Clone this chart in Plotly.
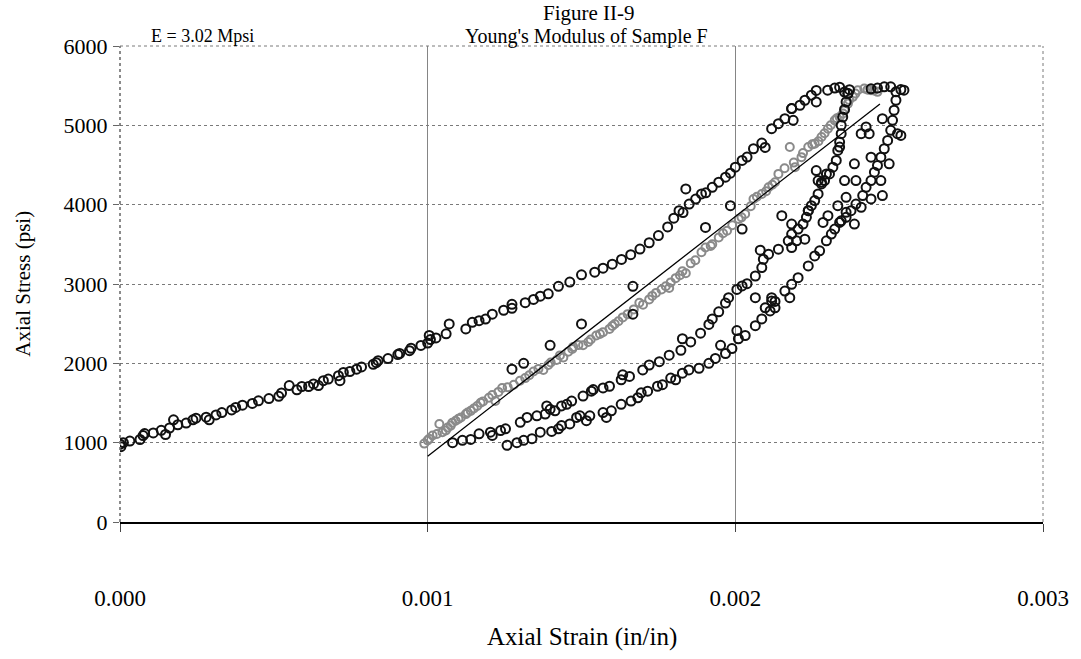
import plotly.graph_objects as go

# ---------------- data ----------------
load_strain = [0.0, 0.000003, 0.000011, 0.000032, 0.000065, 0.000075, 0.00008, 0.000108, 0.000134, 0.000148,
               0.000161, 0.000174, 0.000188, 0.000215, 0.000237, 0.000247, 0.00028, 0.00029, 0.000312, 0.000331,
               0.000363, 0.000376, 0.000398, 0.00043, 0.00045, 0.000484, 0.000516, 0.000525, 0.00055, 0.000575,
               0.000591, 0.000613, 0.000629, 0.000645, 0.000661, 0.000677, 0.00071, 0.000715, 0.000726, 0.000747,
               0.000769, 0.000785, 0.000823, 0.000833, 0.000839, 0.000871, 0.000903, 0.000909, 0.000941, 0.000946,
               0.000978, 0.001, 0.001005, 0.001009, 0.001027, 0.00106, 0.00107, 0.001124, 0.001145, 0.001167,
               0.001188, 0.00121, 0.001247, 0.001274, 0.001274, 0.001317, 0.001344, 0.001366, 0.001392, 0.001425,
               0.001462, 0.0015, 0.001543, 0.00157, 0.0016, 0.00163, 0.00166, 0.00169, 0.00172, 0.00175,
               0.00178, 0.0018, 0.001817, 0.00183, 0.00185, 0.001871, 0.00189, 0.001904, 0.001925, 0.001946,
               0.001968, 0.001984, 0.002, 0.002022, 0.002038, 0.002059, 0.002086, 0.002097, 0.002118, 0.00214,
               0.002161, 0.002183, 0.00221, 0.002226, 0.002247, 0.002263, 0.0023, 0.002323, 0.002339, 0.002355,
               0.002366]
load_stress = [980, 950, 1000, 1020, 1040, 1090, 1115, 1123, 1156, 1103,
               1185, 1288, 1226, 1247, 1288, 1309, 1321, 1288, 1350, 1379,
               1412, 1444, 1473, 1494, 1527, 1556, 1584, 1626, 1720, 1667,
               1708, 1708, 1741, 1720, 1782, 1802, 1844, 1782, 1885, 1897,
               1926, 1955, 1988, 2008, 2033, 2060, 2111, 2124, 2160, 2190,
               2225, 2255, 2351, 2300, 2320, 2372, 2496, 2434, 2517, 2537,
               2558, 2620, 2669, 2744, 2694, 2764, 2806, 2847, 2876, 2971,
               3025, 3116, 3149, 3200, 3250, 3310, 3370, 3440, 3520, 3610,
               3720, 3830, 3924, 3900, 4008, 4070, 4135, 4150, 4219, 4283,
               4346, 4397, 4473, 4557, 4600, 4705, 4776, 4721, 4958, 5021,
               5084, 5211, 5253, 5316, 5380, 5440, 5443, 5470, 5480, 5420,
               5400]

gray_strain = [0.000989, 0.001, 0.001005, 0.001016, 0.00103, 0.001038, 0.001048, 0.001059, 0.001065, 0.001075,
               0.00108, 0.001091, 0.0011, 0.001108, 0.001124, 0.00113, 0.00114, 0.00115, 0.001161, 0.001172,
               0.00118, 0.001199, 0.00121, 0.00122, 0.00123, 0.001242, 0.00126, 0.00128, 0.0013, 0.001317,
               0.00133, 0.001344, 0.00136, 0.001376, 0.001392, 0.0014, 0.001419, 0.00143, 0.001441, 0.001457,
               0.00147, 0.001473, 0.00149, 0.001505, 0.001522, 0.00153, 0.001548, 0.00156, 0.00157, 0.001591,
               0.0016, 0.001608, 0.00162, 0.001634, 0.00165, 0.00167, 0.001688, 0.0017, 0.00172, 0.00173,
               0.001742, 0.00176, 0.001774, 0.001785, 0.00179, 0.001806, 0.00182, 0.001828, 0.001839, 0.001855,
               0.00187, 0.00189, 0.001903, 0.00192, 0.001925, 0.001946, 0.00196, 0.001973, 0.00199, 0.002011,
               0.00202, 0.002032, 0.00205, 0.002059, 0.00207, 0.002086, 0.0021, 0.002108, 0.00212, 0.002129,
               0.00214, 0.00216, 0.002177, 0.00219, 0.002194, 0.002215, 0.00222, 0.002237, 0.00225, 0.002258,
               0.00227, 0.00228, 0.00229, 0.002301, 0.00231, 0.002323, 0.00233, 0.002339, 0.00235, 0.002355,
               0.002366, 0.00237, 0.002382, 0.00239, 0.002398, 0.002419, 0.00243, 0.002441, 0.00245, 0.002462]
gray_stress = [988, 1029, 1050, 1091, 1110, 1236, 1132, 1153, 1190, 1215,
               1250, 1277, 1300, 1318, 1360, 1380, 1401, 1430, 1463, 1504,
               1520, 1566, 1600, 1525, 1640, 1690, 1700, 1731, 1780, 1814,
               1850, 1897, 1930, 1917, 1979, 2010, 2041, 2100, 2074, 2145,
               2180, 2207, 2230, 2227, 2269, 2300, 2351, 2370, 2393, 2434,
               2470, 2496, 2530, 2579, 2620, 2680, 2764, 2740, 2806, 2850,
               2888, 2930, 2971, 2950, 3020, 3074, 3110, 3160, 3136, 3260,
               3300, 3400, 3460, 3480, 3502, 3586, 3640, 3671, 3740, 3819,
               3840, 3882, 3980, 4072, 4100, 4135, 4170, 4219, 4250, 4283,
               4388, 4460, 4726, 4530, 4473, 4599, 4650, 4726, 4760, 4768,
               4800, 4852, 4900, 4958, 5000, 5063, 5090, 5105, 5150, 5190,
               5274, 5320, 5359, 5400, 5443, 5464, 5450, 5443, 5440, 5422]

unload1_strain = [0.001081, 0.001113, 0.00114, 0.001167, 0.001204, 0.00121, 0.001237, 0.001253, 0.001301, 0.001323,
                  0.001355, 0.001382, 0.001387, 0.001398, 0.001414, 0.001435, 0.001452, 0.001468, 0.001505, 0.001532,
                  0.001538, 0.00157, 0.001591, 0.001629, 0.001634, 0.001656, 0.001699, 0.00172, 0.001753, 0.001785,
                  0.001823, 0.001828, 0.001855, 0.001887, 0.001914, 0.001925, 0.001946, 0.001968, 0.001978, 0.002005,
                  0.002022, 0.002038, 0.002065, 0.002086, 0.002091, 0.002081, 0.002108, 0.00214, 0.002172, 0.002183,
                  0.002204, 0.00222, 0.002231, 0.002237, 0.002247, 0.002258, 0.002269, 0.00228, 0.00229, 0.002306,
                  0.002317, 0.002328, 0.002333, 0.002339, 0.002344, 0.002344, 0.002349, 0.002355, 0.00236, 0.002366,
                  0.002371]
unload1_stress = [1000, 1029, 1041, 1112, 1132, 1091, 1153, 1174, 1256, 1318,
                  1339, 1360, 1463, 1421, 1401, 1463, 1483, 1525, 1587, 1649,
                  1669, 1690, 1711, 1793, 1855, 1835, 1917, 1979, 2021, 2103,
                  2165, 2310, 2270, 2380, 2490, 2560, 2650, 2760, 2827, 2932,
                  2975, 3004, 3101, 3207, 3312, 3426, 3376, 3439, 3544, 3629,
                  3692, 3755, 3840, 3924, 3987, 4051, 4135, 4262, 4304, 4388,
                  4473, 4557, 4684, 4789, 4895, 5000, 5105, 5200, 5295, 5401,
                  5450]

unload2_strain = [0.001258, 0.00129, 0.001312, 0.001339, 0.001366, 0.001403, 0.001425, 0.001435, 0.001462, 0.001484,
                  0.001495, 0.001516, 0.001527, 0.00157, 0.001581, 0.001597, 0.001629, 0.001661, 0.001683, 0.001694,
                  0.001715, 0.001747, 0.001763, 0.00179, 0.001806, 0.001828, 0.001849, 0.001882, 0.001914, 0.001935,
                  0.001952, 0.001968, 0.001989, 0.002005, 0.00201, 0.002032, 0.002065, 0.002086, 0.002097, 0.002113,
                  0.002118, 0.002129, 0.002161, 0.002183, 0.002204, 0.002237, 0.002258, 0.002274, 0.002296, 0.002312,
                  0.002323, 0.002344, 0.00236, 0.002376, 0.002392, 0.002414, 0.002425, 0.002441, 0.002452, 0.002462,
                  0.002473, 0.002484, 0.002495, 0.002505, 0.002511, 0.002516, 0.002522, 0.002522, 0.002538, 0.002548,
                  0.002505, 0.002484, 0.002462, 0.002441]
unload2_stress = [967, 1000, 1029, 1050, 1132, 1141, 1174, 1215, 1236, 1318,
                  1339, 1277, 1339, 1380, 1318, 1401, 1483, 1525, 1566, 1628,
                  1649, 1711, 1731, 1814, 1793, 1876, 1917, 1938, 2000, 2062,
                  2227, 2124, 2186, 2413, 2310, 2351, 2475, 2560, 2700, 2660,
                  2785, 2780, 2911, 2996, 3080, 3228, 3354, 3418, 3544, 3629,
                  3692, 3797, 3840, 3924, 4008, 4114, 4219, 4304, 4409, 4494,
                  4599, 4705, 4810, 4937, 5063, 5190, 5316, 5422, 5451, 5443,
                  5485, 5485, 5470, 5460]

scatter_strain = [0.002387, 0.002409, 0.002435, 0.002425, 0.002441, 0.0025, 0.002473, 0.002392, 0.002355, 0.002339,
                  0.00228, 0.002296, 0.002269, 0.002263, 0.00236, 0.002333, 0.002301, 0.002285, 0.002183, 0.002237,
                  0.002151, 0.002339, 0.002387, 0.002409, 0.00236, 0.002226, 0.002199, 0.002183, 0.002065, 0.002118,
                  0.002177, 0.002129, 0.002527, 0.002538, 0.002478, 0.002183, 0.002188, 0.002263, 0.001839, 0.001984,
                  0.001903, 0.002022, 0.002478, 0.002441, 0.001274, 0.001312, 0.001398, 0.0015, 0.001667, 0.001667]
scatter_stress = [4515, 4895, 4895, 4979, 4599, 4515, 4304, 4304, 4304, 4726,
                  4283, 4388, 4304, 4430, 4093, 3987, 3861, 3776, 3755, 3924,
                  3861, 3776, 3755, 3966, 3903, 3565, 3544, 3460, 2827, 2827,
                  2827, 2700, 4895, 4873, 5084, 5211, 5063, 5295, 4198, 3987,
                  3713, 3692, 4114, 4072, 1926, 2000, 2227, 2496, 2971, 2620]

fit_strain = [0.001, 0.00247]
fit_stress = [830, 5270]

x_ticks = [0.0, 0.001, 0.002, 0.003]
x_tick_text = ["0.000", "0.001", "0.002", "0.003"]
y_ticks = [0, 1000, 2000, 3000, 4000, 5000, 6000]

# ---------------- figure ----------------
FONT = "Liberation Serif, Times New Roman, serif"
black_marker = dict(symbol="circle-open", size=9, color="#111111", line=dict(width=2))
gray_marker = dict(symbol="circle-open", size=8, color="#8a8a8a", line=dict(width=2))

fig = go.Figure()
fig.add_trace(go.Scatter(x=gray_strain, y=gray_stress, mode="markers", marker=gray_marker, showlegend=False))
fig.add_trace(go.Scatter(x=load_strain, y=load_stress, mode="markers", marker=black_marker, showlegend=False))
fig.add_trace(go.Scatter(x=unload1_strain, y=unload1_stress, mode="markers", marker=black_marker, showlegend=False))
fig.add_trace(go.Scatter(x=unload2_strain, y=unload2_stress, mode="markers", marker=black_marker, showlegend=False))
fig.add_trace(go.Scatter(x=scatter_strain, y=scatter_stress, mode="markers", marker=black_marker, showlegend=False))
fig.add_trace(go.Scatter(x=fit_strain, y=fit_stress, mode="lines", line=dict(color="black", width=1.3),
                         showlegend=False))

L, R, T, B = 120, 32, 46, 137
W, H = 1081, 659
pw, ph = W - L - R, H - T - B

fig.update_layout(
    width=W, height=H,
    margin=dict(l=L, r=R, t=T, b=B),
    paper_bgcolor="white", plot_bgcolor="white",
    font=dict(family=FONT, size=20, color="black"),
    xaxis=dict(range=[0, 0.003], tickvals=x_ticks, ticktext=x_tick_text,
               showgrid=True, gridcolor="#858585", gridwidth=1,
               showline=True, linecolor="black", linewidth=2,
               ticks="outside", ticklen=8, tickcolor="#444", ticklabelstandoff=46,
               zeroline=False, tickfont=dict(family=FONT, size=23)),
    yaxis=dict(range=[0, 6000], tickvals=y_ticks,
               showgrid=True, gridcolor="#7a7a7a", gridwidth=1, griddash="dot",
               showline=False,
               ticks="outside", ticklen=6, tickcolor="#666", ticklabelstandoff=1,
               zeroline=False, tickfont=dict(family=FONT, size=22)),
    shapes=[
        dict(type="line", xref="paper", yref="paper", x0=0, x1=1, y0=1, y1=1,
             line=dict(color="#7a7a7a", width=1, dash="dot")),
        dict(type="line", xref="paper", yref="paper", x0=1, x1=1, y0=0, y1=1,
             line=dict(color="#7a7a7a", width=1, dash="dot")),
        dict(type="line", xref="paper", yref="paper", x0=0, x1=0, y0=0, y1=1,
             line=dict(color="#666666", width=1.5, dash="dot")),
    ],
)

def px_x(px):
    return (px - L) / pw

def px_y(py):
    return 1 - (py - T) / ph

fig.add_annotation(text="Figure II-9", xref="paper", yref="paper", x=px_x(592), y=px_y(13),
                   showarrow=False, xanchor="center", yanchor="middle", font=dict(family=FONT, size=21))
fig.add_annotation(text="Young's Modulus of Sample F", xref="paper", yref="paper", x=px_x(590), y=px_y(36),
                   showarrow=False, xanchor="center", yanchor="middle", font=dict(family=FONT, size=20))
fig.add_annotation(text="E = 3.02 Mpsi", xref="paper", yref="paper", x=px_x(203), y=px_y(36),
                   showarrow=False, xanchor="center", yanchor="middle", font=dict(family=FONT, size=18))
fig.add_annotation(text="Axial Strain (in/in)", xref="paper", yref="paper", x=px_x(585), y=px_y(637),
                   showarrow=False, xanchor="center", yanchor="middle", font=dict(family=FONT, size=25))
fig.add_annotation(text="Axial Stress (psi)", xref="paper", yref="paper", x=px_x(22), y=0.5,
                   showarrow=False, xanchor="center", yanchor="middle", textangle=-90,
                   font=dict(family=FONT, size=21))

fig.write_html("out.html")
